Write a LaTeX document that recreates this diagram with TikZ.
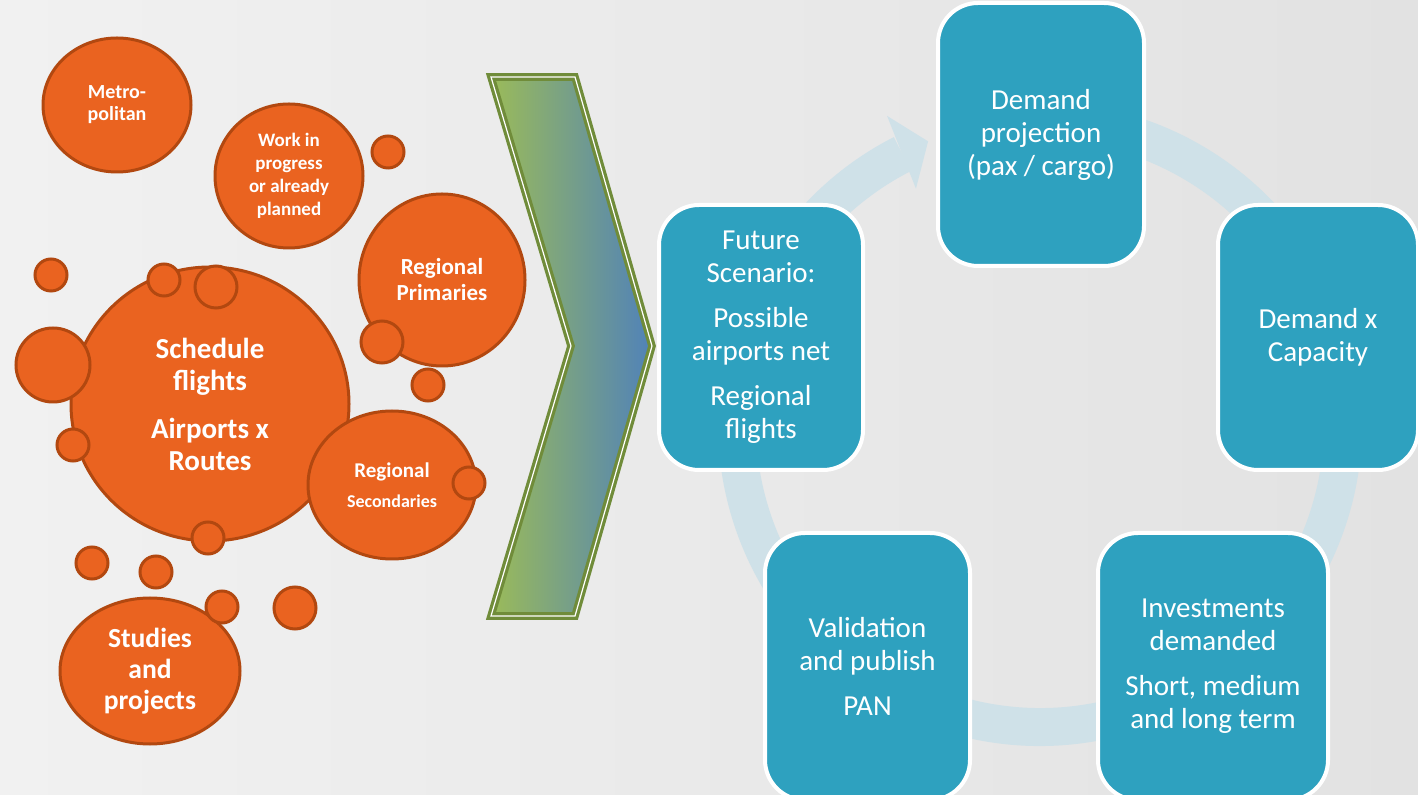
\documentclass[tikz,border=0pt]{standalone}
\usepackage{fontspec}
\setmainfont{Carlito}
\usetikzlibrary{shapes.geometric, positioning}
\usepackage{xcolor}
\definecolor{bubble}{RGB}{234,99,32}
\definecolor{bubbleline}{RGB}{178,72,16}
\definecolor{tileblue}{RGB}{46,161,191}
\definecolor{ringblue}{RGB}{207,225,232}
\definecolor{chevline}{RGB}{112,140,58}
\definecolor{chevleft}{RGB}{155,187,89}
\definecolor{chevmid}{RGB}{125,162,80}
\definecolor{chevright}{RGB}{80,130,185}
\definecolor{bgleft}{RGB}{241,241,241}
\definecolor{bgright}{RGB}{226,226,226}

\begin{document}
\begin{tikzpicture}[x=0.5pt, y=-0.5pt,
    bubble/.style={ellipse, draw=bubbleline, fill=bubble, line width=1.5pt, inner sep=0pt, text=white, font=\bfseries, align=center},
    drop/.style={circle, draw=bubbleline, fill=bubble, line width=1.5pt, inner sep=0pt, minimum size=#1},
    tile/.style={draw=white, fill=tileblue, line width=2pt, rounded corners=20pt, text=white, align=center, inner sep=0pt, font=\fontsize{14.5}{16.5}\selectfont}]
    % background
    \shade[left color=bgleft, right color=bgright] (0,0) rectangle (1418,795);
    \useasboundingbox (0,0) rectangle (1418,795);

    % cycle arrow behind the tiles
    \begin{scope}[shift={(1040,424)}]
    \fill[ringblue] (-100:322) arc[start angle=-100, end angle=243, radius=322] -- (243:284) arc[start angle=243, end angle=-100, radius=284] -- cycle;
    \fill[ringblue] (-116.4:344) -- (-111.6:304) -- (-117.8:266) -- cycle;
    \end{scope}

    % chevron
    \shade[left color=chevleft, middle color=chevmid, right color=chevright] (491,77) -- (575,77) -- (652,346) -- (575,616) -- (491,616) -- (571,346) -- cycle;
    \draw[chevline, line width=1.6pt, double=white, double distance=0.6pt, line join=miter] (491,77) -- (575,77) -- (652,346) -- (575,616) -- (491,616) -- (571,346) -- cycle;

    % big bubbles
    \draw node[bubble, minimum width=74pt, minimum height=67pt, font=\bfseries\fontsize{10}{11}\selectfont] (metro) at (117,105) {Metro-\\politan};
    \draw node[bubble, minimum width=74pt, minimum height=72pt, font=\bfseries\fontsize{9.5}{11.5}\selectfont] (work) at (289,176) {Work in\\progress\\or already\\planned};
    \draw node[bubble, minimum width=83pt, minimum height=86pt, font=\bfseries\fontsize{11.5}{13}\selectfont] (prim) at (442,280) {Regional\\Primaries};
    \draw node[bubble, minimum width=139pt, minimum height=137pt, font=\bfseries\fontsize{14.5}{16}\selectfont] (sched) at (210,404) {Schedule\\flights\\[8pt]Airports x\\Routes};
    \draw node[bubble, minimum width=84pt, minimum height=74pt, font=\bfseries\fontsize{10.5}{12}\selectfont] (sec) at (392,485) {Regional\\[3pt]{\fontsize{9}{11}\selectfont Secondaries}};
    \draw node[bubble, minimum width=90pt, minimum height=73pt, font=\bfseries\fontsize{13.8}{15.5}\selectfont] (study) at (150,671) {Studies\\and\\projects};

    % small bubbles
    \draw node[drop=16pt] (d1) at (388,152) {};
    \draw node[drop=21pt] (d2) at (382,342) {};
    \draw node[drop=16pt] (d3) at (428,385) {};
    \draw node[drop=16pt] (d4) at (51,275) {};
    \draw node[drop=16pt] (d5) at (164,280) {};
    \draw node[drop=21pt] (d6) at (216,287) {};
    \draw node[drop=37pt] (d7) at (53,365) {};
    \draw node[drop=16pt] (d8) at (73,445) {};
    \draw node[drop=16pt] (d9) at (208,538) {};
    \draw node[drop=16pt] (d10) at (469,483) {};
    \draw node[drop=16pt] (d11) at (92,563) {};
    \draw node[drop=16pt] (d12) at (156,572) {};
    \draw node[drop=16pt] (d13) at (222,607) {};
    \draw node[drop=21pt] (d14) at (295,608) {};

    % planning cycle
    \draw node[tile, minimum width=103pt, minimum height=131.5pt] (demand) at (1041,134.5) {Demand\\projection\\(pax / cargo)};
    \draw node[tile, minimum width=102pt, minimum height=132.5pt] (future) at (761,337.5) {Future\\Scenario:\\[6pt]Possible\\airports net\\[6pt]Regional\\flights};
    \draw node[right=175.5pt of future, tile, minimum width=100pt, minimum height=132.5pt] (cap) {Demand x\\Capacity};
    \draw node[tile, minimum width=102.5pt, minimum height=133.5pt] (valid) at (867.5,666.5) {Validation\\and publish\\[6pt]PAN};
    \draw node[right=62pt of valid, tile, minimum width=115pt, minimum height=133.5pt] (invest) {Investments\\demanded\\[6pt]Short, medium\\and long term};
\end{tikzpicture}
\end{document}
